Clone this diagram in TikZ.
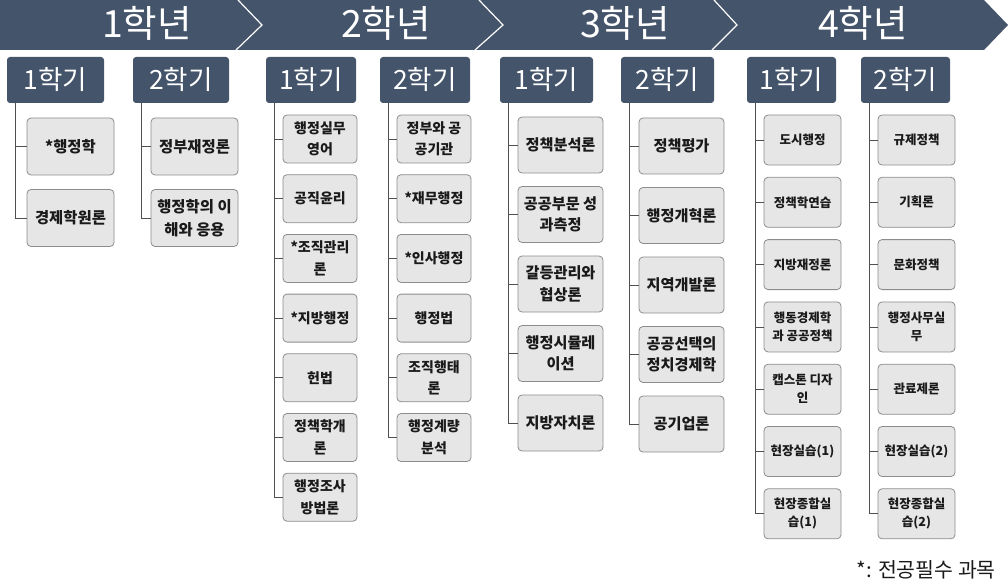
\documentclass[tikz,border=0pt]{standalone}
\usepackage{fontspec}
\setmainfont{Noto Sans CJK KR}
\definecolor{navy}{HTML}{44546A}
\definecolor{boxfill}{HTML}{E6E6E6}
\definecolor{boxline}{HTML}{8C8C8C}
\definecolor{connc}{HTML}{505050}
\definecolor{txt}{HTML}{1A1A1A}
\tikzset{
  course/.style={draw=boxline, fill=boxfill, rounded corners=4pt, line width=0.8pt,
    text=txt, align=center, inner sep=1pt},
  sem/.style={fill=navy, rounded corners=3pt, text=white, minimum height=46pt,
    font=\fontsize{26.5}{30}\selectfont, inner sep=0pt},
  yearlbl/.style={text=white, font=\fontsize{37.5}{42}\selectfont, inner sep=0pt},
  conn/.style={draw=connc, line width=0.8pt},
}
\newcommand\coursecol[9]{%
  \path (h#1.south west) ++(9,0) coordinate (v#1);
  \foreach \t [count=\i] in {#9} {
    \node[course, minimum width=#4, minimum height=#7, font=#8] (#1-\i) at (#3, {#5+(\i-1)*#6}) {\t};
    \draw[conn] (#1-\i.west) -- (#1-\i.west -| v#1);
    \xdef\lastidx{\i}
  }
  \draw[conn] (v#1) |- (#1-\lastidx.west);
}
\begin{document}
\begin{tikzpicture}[x=1pt, y=-1pt]
\useasboundingbox (0,0) rectangle (1008,588);
% banner
\fill[navy] (0,0) -- (984,0) -- (1008,25) -- (984,50) -- (0,50) -- cycle;
\draw[white, line width=1.2pt] (238,0) -- (262,25) -- (236,50);
\draw[white, line width=1.2pt] (479,0) -- (503,25) -- (475,50);
\draw[white, line width=1.2pt] (714,0) -- (737,25) -- (712,50);
\node[yearlbl] (y1) at (147,23) {1학년};
\node[yearlbl] (y2) at (386,23) {2학년};
\node[yearlbl] (y3) at (625,23) {3학년};
\node[yearlbl] (y4) at (863,23) {4학년};
% semester headers
\node[sem, minimum width=97pt] (hc11) at (55.5,80) {1학기};
\node[sem, minimum width=96pt] (hc12) at (181,80) {2학기};
\node[sem, minimum width=90pt] (hc21) at (311,80) {1학기};
\node[sem, minimum width=90pt] (hc22) at (425,80) {2학기};
\node[sem, minimum width=93pt] (hc31) at (546.5,80) {1학기};
\node[sem, minimum width=93pt] (hc32) at (667.5,80) {2학기};
\node[sem, minimum width=89pt] (hc41) at (791.5,80) {1학기};
\node[sem, minimum width=89pt] (hc42) at (905.5,80) {2학기};
% courses
\coursecol{c11}{}{70.5}{87pt}{146.5}{71.5}{57pt}{\bfseries\fontsize{15.4}{23}\selectfont}{{*행정학},{경제학원론}}
\coursecol{c12}{}{194.5}{87pt}{146.5}{71.5}{57pt}{\bfseries\fontsize{15.4}{23}\selectfont}{{정부재정론},{행정학의 이\\해와 응용}}
\coursecol{c21}{}{320}{74pt}{139}{59.7}{48pt}{\bfseries\fontsize{14}{21.5}\selectfont}{{행정실무\\영어},{공직윤리},{*조직관리\\론},{*지방행정},{헌법},{정책학개\\론},{행정조사\\방법론}}
\coursecol{c22}{}{434}{74pt}{139}{59.7}{48pt}{\bfseries\fontsize{14}{21.5}\selectfont}{{정부와 공\\공기관},{*재무행정},{*인사행정},{행정법},{조직행태\\론},{행정계량\\분석}}
\coursecol{c31}{}{560.5}{85pt}{145}{69.5}{56pt}{\bfseries\fontsize{15.2}{21.5}\selectfont}{{정책분석론},{공공부문 성\\과측정},{갈등관리와\\협상론},{행정시뮬레\\이션},{지방자치론}}
\coursecol{c32}{}{681.5}{85pt}{146}{69.5}{56pt}{\bfseries\fontsize{15.2}{21.5}\selectfont}{{정책평가},{행정개혁론},{지역개발론},{공공선택의\\정치경제학},{공기업론}}
\coursecol{c41}{}{802.5}{77pt}{140}{62.3}{50pt}{\bfseries\fontsize{12.5}{18}\selectfont}{{도시행정},{정책학연습},{지방재정론},{행동경제학\\과 공공정책},{캡스톤 디자\\인},{현장실습(1)},{현장종합실\\습(1)}}
\coursecol{c42}{}{916.5}{77pt}{140}{62.3}{50pt}{\bfseries\fontsize{12.5}{18}\selectfont}{{규제정책},{기획론},{문화정책},{행정사무실\\무},{관료제론},{현장실습(2)},{현장종합실\\습(2)}}
% note
\node[anchor=east, inner sep=0pt, text=txt, font=\fontsize{20.5}{24}\selectfont] (note) at (996,570) {*: 전공필수 과목};
\end{tikzpicture}
\end{document}
